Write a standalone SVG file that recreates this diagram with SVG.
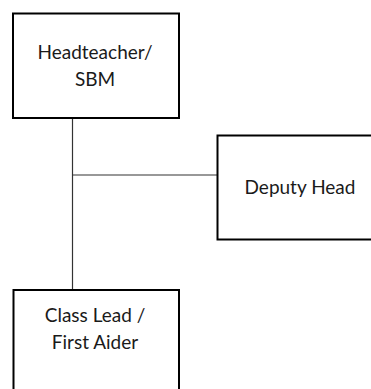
<svg xmlns="http://www.w3.org/2000/svg" width="371" height="389" viewBox="0 0 371 389">
  <style>
    .box { fill: #ffffff; stroke: #000000; stroke-width: 2; }
    .link { fill: none; stroke: #333333; stroke-width: 1.2; }
    .label { font-family: Lato, "Liberation Sans", sans-serif; font-size: 19px; fill: #1a1a1a; text-anchor: middle; }
  </style>
  <rect width="371" height="389" fill="#ffffff"/>

  <!-- connectors -->
  <g id="connectors">
    <line class="link" x1="72.5" y1="118" x2="72.5" y2="290"/>
    <line class="link" x1="72.5" y1="175" x2="217" y2="175"/>
  </g>

  <g id="node-headteacher">
    <rect class="box" x="13" y="13.5" width="166" height="104.5"/>
    <text class="label" x="95" y="59.3">Headteacher/</text>
    <text class="label" x="95" y="86">SBM</text>
  </g>

  <g id="node-deputy">
    <rect class="box" x="217.5" y="135.5" width="168" height="104"/>
    <text class="label" x="300" y="194">Deputy Head</text>
  </g>

  <g id="node-classlead">
    <rect class="box" x="13.5" y="290" width="165.5" height="120"/>
    <text class="label" x="95" y="322.3">Class Lead /</text>
    <text class="label" x="95" y="349">First Aider</text>
  </g>
</svg>
